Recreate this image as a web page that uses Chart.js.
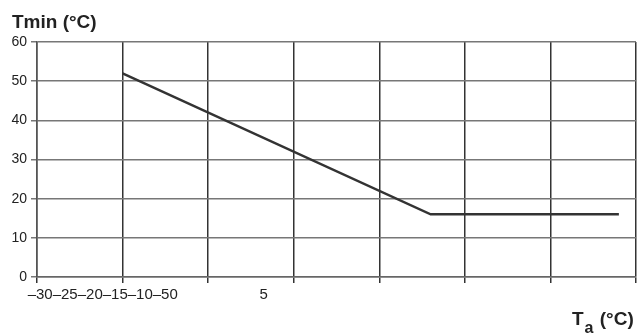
<!DOCTYPE html>
<html>
<head>
<meta charset="utf-8">
<script src="https://cdn.jsdelivr.net/npm/chart.js@4"></script>
<style>
  body { margin: 0; background: #fff; }
</style>
</head>
<body>
<canvas id="tminChart" width="640" height="335"></canvas>
<script>
// outdoor temperature Ta vs minimum flow temperature Tmin
const taValues = [-25, -7, 4];
const tminValues = [52, 16, 16];

const xGridValues = [-30, -25, -20, -15, -10, -5, 0, 5];
const yTickValues = [0, 10, 20, 30, 40, 50, 60];

// the x labels are printed squashed together in the original
const xTickLabels = ["\u201330\u201325\u201320\u201315\u201310\u201350", "5"];
const xTickLabelAt = [-26.16, -16.76];

const fontFamily = "'Liberation Sans', Arial, sans-serif";

const axisTitles = {
  id: "axisTitles",
  afterDraw(chart) {
    const ctx = chart.ctx;
    ctx.save();
    ctx.fillStyle = "#222";
    ctx.textBaseline = "alphabetic";
    ctx.textAlign = "left";

    ctx.font = "bold 19px " + fontFamily;
    ctx.fillText("Tmin (°C)", 12, 28);

    let x = 572;
    ctx.font = "bold 19px " + fontFamily;
    ctx.fillText("T", x, 325);
    x += ctx.measureText("T").width + 1;
    ctx.font = "bold 16px " + fontFamily;
    ctx.fillText("a", x, 333);
    x += ctx.measureText("a").width + 1;
    ctx.font = "bold 19px " + fontFamily;
    ctx.fillText(" (°C)", x, 325);
    ctx.restore();
  },
};

const labelTicks = xTickLabelAt.map((v, i) => ({ value: v, label: xTickLabels[i], isLabel: true }));
const gridTicks = xGridValues.map((v) => ({ value: v, label: "", isLabel: false }));
const allXTicks = gridTicks.concat(labelTicks).sort((a, b) => a.value - b.value);

const ctx = document.getElementById("tminChart").getContext("2d");
const chart = new Chart(ctx, {
  type: "scatter",
  data: {
    datasets: [
      {
        data: taValues.map((t, i) => ({ x: t, y: tminValues[i] })),
        showLine: true,
        borderColor: "#333",
        borderWidth: 2.5,
        pointRadius: 0,
        tension: 0,
      },
    ],
  },
  options: {
    responsive: false,
    animation: false,
    devicePixelRatio: 1,
    layout: { padding: { left: 0, top: 42, right: 4, bottom: 0 } },
    plugins: {
      legend: { display: false },
      tooltip: { enabled: false },
    },
    scales: {
      x: {
        type: "linear",
        min: -30,
        max: 5,
        afterBuildTicks: (scale) => {
          scale.ticks = allXTicks.map((t) => ({ value: t.value }));
        },
        afterFit: (scale) => {
          scale.height = 58;
        },
        ticks: {
          autoSkip: false,
          maxRotation: 0,
          padding: 3,
          color: "#222",
          font: { family: fontFamily, size: 15 },
          callback: (value) => {
            const t = allXTicks.find((k) => k.value === value);
            return t ? t.label : "";
          },
        },
        grid: {
          color: (c) => (c.tick && allXTicks[c.index] && allXTicks[c.index].isLabel ? "rgba(0,0,0,0)" : "#333"),
          tickColor: (c) => (c.tick && allXTicks[c.index] && allXTicks[c.index].isLabel ? "rgba(0,0,0,0)" : "#333"),
          lineWidth: 1.5,
          tickLength: 6,
        },
        border: { display: true, color: "#666", width: 1.5 },
      },
      y: {
        min: 0,
        max: 60,
        afterBuildTicks: (scale) => {
          scale.ticks = yTickValues.map((v) => ({ value: v }));
        },
        afterFit: (scale) => {
          scale.width = 37;
        },
        ticks: {
          padding: 4,
          color: "#222",
          font: { family: fontFamily, size: 14 },
        },
        grid: {
          color: "#777",
          tickColor: "#777",
          lineWidth: 1.5,
          tickLength: 6,
        },
        border: { display: true, color: "#555", width: 1.5 },
      },
    },
  },
  plugins: [axisTitles],
});
</script>
</body>
</html>
